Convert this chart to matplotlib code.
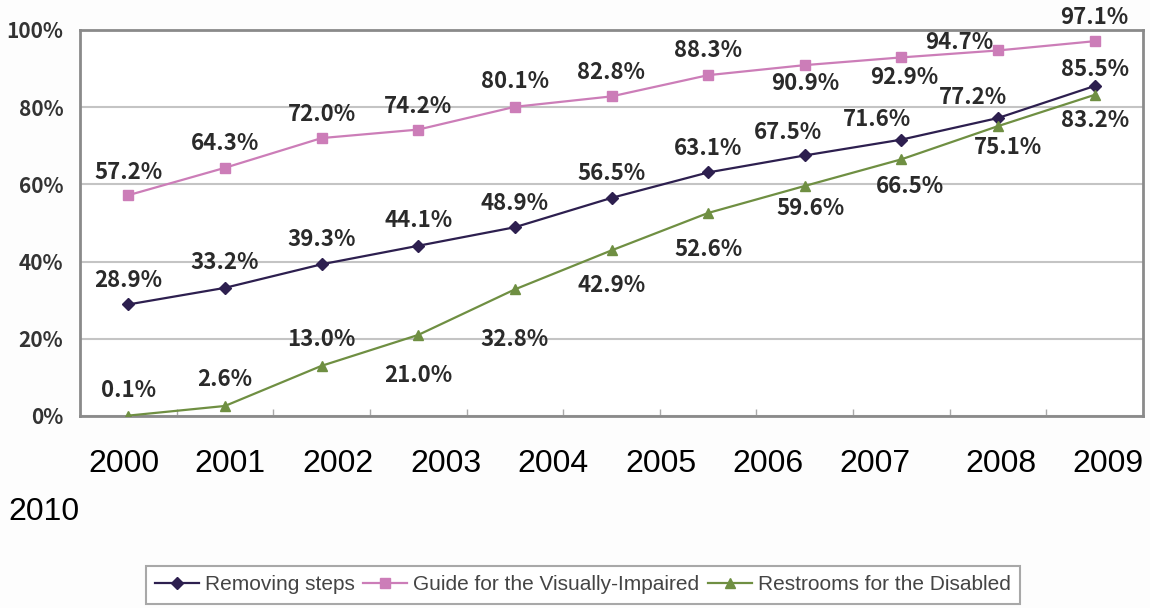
import numpy as np
import matplotlib
matplotlib.use("Agg")
import matplotlib.pyplot as plt

# data
years = ["2000", "2001", "2002", "2003", "2004", "2005",
         "2006", "2007", "2008", "2009", "2010"]
steps = [28.9, 33.2, 39.3, 44.1, 48.9, 56.5, 63.1, 67.5, 71.6, 77.2, 85.5]
guide = [57.2, 64.3, 72.0, 74.2, 80.1, 82.8, 88.3, 90.9, 92.9, 94.7, 97.1]
restrooms = [0.1, 2.6, 13.0, 21.0, 32.8, 42.9, 52.6, 59.6, 66.5, 75.1, 83.2]
names = ["Removing steps", "Guide for the Visually-Impaired",
         "Restrooms for the Disabled"]

# label offsets in pixels (dx, dy) for each point
steps_off = [(0, 24), (0, 25), (0, 25), (0, 25), (0, 24), (0, 24),
             (0, 24), (-17, 23), (-24, 20), (-25, 21), (0, 16)]
guide_off = [(0, 23), (0, 24), (0, 24), (0, 23), (0, 25), (0, 24),
             (0, 25), (0, -18), (3, -20), (-39, 8), (0, 24)]
rest_off = [(0, 25), (0, 26), (0, 26), (0, -41), (0, -50), (0, -35),
            (0, -37), (6, -23), (9, -27), (10, -21), (0, -26)]

# where the year text sits under the chart (figure pixels)
year_x = [124, 230, 338, 446, 553, 661, 768, 875, 1001, 1108, 44]
year_y = [463.5] * 10 + [511.5]

W, H = 1150, 608
fig = plt.figure(figsize=(W / 100, H / 100), dpi=100, facecolor="#fdfdfd")
ax = fig.add_axes([80 / W, 1 - 416 / H, 1063 / W, 386 / H])

x = np.arange(len(years))
lab_font = dict(family=["Noto Sans CJK JP", "DejaVu Sans"], weight="bold",
                size=16, color="#2a2a2a")

series = [
    (steps, steps_off, "#2d1f4f", "D", 6),
    (guide, guide_off, "#cc7db8", "s", 7),
    (restrooms, rest_off, "#6f8f42", "^", 7),
]
handles = []
for (vals, offs, col, mk, ms), nm in zip(series, names):
    h, = ax.plot(x, vals, color=col, lw=1.6, marker=mk, ms=ms,
                 mec=col, mfc=col, label=nm, zorder=3)
    handles.append(h)
    for xi, v, (dx, dy) in zip(x, vals, offs):
        ax.annotate(f"{v:.1f}%", (xi, v), xytext=(dx, dy),
                    textcoords="offset pixels", ha="center", va="center",
                    annotation_clip=False, **lab_font)

ax.set_xlim(-0.5, len(years) - 0.5)
ax.set_ylim(0, 100)
ax.set_yticks(range(0, 101, 20))
ax.set_yticklabels([f"{t}%" for t in range(0, 101, 20)],
                   family=["Noto Sans CJK JP", "DejaVu Sans"],
                   weight="bold", size=15, color="#333333")
ax.tick_params(axis="y", length=0, pad=12)
ax.set_xticks(np.arange(0.5, len(years) - 1, 1.0))
ax.set_xticklabels([])
ax.tick_params(axis="x", direction="in", length=5, width=1, color="#aaaaaa")
ax.grid(axis="y", color="#c4c4c4", lw=1.5)
ax.set_axisbelow(True)
for sp in ax.spines.values():
    sp.set_color("#8a8a8a")
    sp.set_linewidth(2)

for yr, xx, yy in zip(years, year_x, year_y):
    fig.text(xx / W, 1 - yy / H, yr, ha="center", va="center",
             family="Liberation Sans", size=23, color="black")

leg = fig.legend(handles=handles, loc="center",
                 bbox_to_anchor=(583 / W, 1 - 585 / H), ncol=3,
                 prop=dict(family="Liberation Sans", size=15),
                 handlelength=2.1, handletextpad=0.3, columnspacing=0.4,
                 borderpad=0.45, fancybox=False, framealpha=1)
leg.get_frame().set_edgecolor("#a8a8a8")
leg.get_frame().set_linewidth(1.5)
for t in leg.get_texts():
    t.set_color("#444444")

fig.savefig("out.png", dpi=100, facecolor=fig.get_facecolor())
